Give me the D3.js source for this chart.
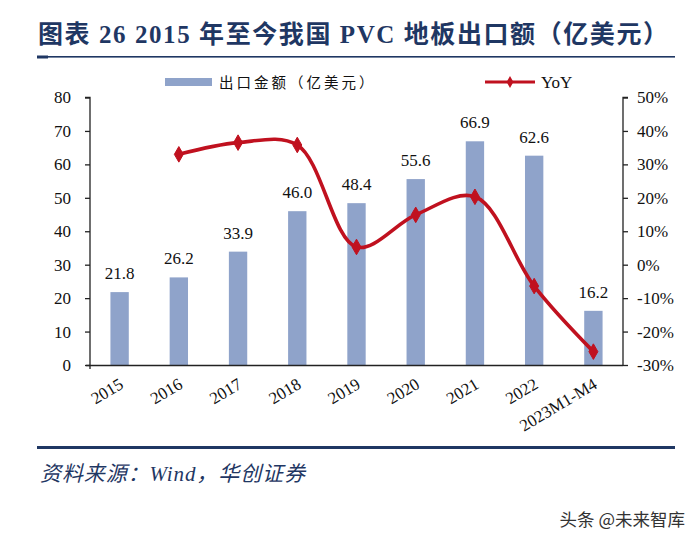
<!DOCTYPE html>
<html><head><meta charset="utf-8">
<script src="https://cdn.jsdelivr.net/npm/d3@7"></script>
<style>
body{margin:0;background:#fff;}
svg{display:block;}
</style></head>
<body>
<svg id="c" width="700" height="544"></svg>
<script>
const categories = ["2015","2016","2017","2018","2019","2020","2021","2022","2023M1-M4"];
const exportValues = [21.8,26.2,33.9,46.0,48.4,55.6,66.9,62.6,16.2];
const yoyValues = [null,33.0,36.5,35.8,5.3,14.9,20.3,-6.4,-26.0];
const leftTicks = [0,10,20,30,40,50,60,70,80];
const rightTicks = [-30,-20,-10,0,10,20,30,40,50];
const titleText = "图表 26  2015 年至今我国 PVC 地板出口额（亿美元）";
const sourceText = "资料来源：Wind，华创证券";
const legendBar = "出口金额（亿美元）";
const legendLine = "YoY";
const watermark = "头条 @未来智库";

const svg = d3.select("#c");
const navy = "#1F3763";
const barColor = "#8FA3CA";
const lineColor = "#C0111F";
const serif = "'Liberation Serif','Times New Roman','Noto Sans CJK SC',serif";

// header
svg.append("text").attr("x",38).attr("y",43).attr("fill",navy)
  .attr("font-family",serif).attr("font-weight","bold").attr("font-size",25)
  .attr("textLength",630).attr("lengthAdjust","spacing")
  .text(titleText);
svg.append("rect").attr("x",37).attr("y",56).attr("width",638).attr("height",1.6).attr("fill",navy);
svg.append("rect").attr("x",37).attr("y",55.5).attr("width",11).attr("height",3).attr("fill",navy);

// footer
svg.append("rect").attr("x",37).attr("y",446).attr("width",638).attr("height",3).attr("fill",navy);
svg.append("text").attr("x",40).attr("y",481).attr("fill",navy)
  .attr("font-family",serif).attr("font-style","italic").attr("font-size",21)
  .attr("textLength",265).attr("lengthAdjust","spacing")
  .text(sourceText);
svg.append("text").attr("x",685).attr("y",526).attr("text-anchor","end").attr("fill","#333")
  .attr("font-family","'Noto Sans CJK SC',sans-serif").attr("font-size",17.5)
  .text(watermark);

// scales
const x0 = 90, x1 = 623, yTop = 97.5, yBot = 365;
const x = d3.scaleBand().domain(categories).range([x0,x1]).paddingInner(0.69).paddingOuter(0.345);
const yL = d3.scaleLinear().domain([0,80]).range([yBot,yTop]);
const yR = d3.scaleLinear().domain([-30,50]).range([yBot,yTop]);

// bars
svg.append("g").selectAll("rect").data(exportValues).join("rect")
  .attr("x",(d,i)=>x(categories[i])).attr("width",x.bandwidth())
  .attr("y",d=>yL(d)).attr("height",d=>yBot-yL(d)).attr("fill",barColor);
svg.append("g").selectAll("text").data(exportValues).join("text")
  .attr("x",(d,i)=>x(categories[i])+x.bandwidth()/2).attr("y",d=>yL(d)-13)
  .attr("text-anchor","middle").attr("font-family",serif).attr("font-size",17).attr("fill","#111")
  .text(d=>d.toFixed(1));

// axes
const axL = svg.append("g").attr("transform",`translate(${x0},0)`)
  .call(d3.axisLeft(yL).tickValues(leftTicks).tickSize(5).tickPadding(14));
const axR = svg.append("g").attr("transform",`translate(${x1},0)`)
  .call(d3.axisRight(yR).tickValues(rightTicks).tickSize(5).tickPadding(9).tickFormat(d=>d+"%"));
const axB = svg.append("g").attr("transform",`translate(0,${yBot})`)
  .call(d3.axisBottom(x).tickSize(0).tickFormat(""));
[axL,axR,axB].forEach(a=>{
  a.selectAll("path,line").attr("stroke","#222").attr("stroke-width",1.3);
  a.selectAll("text").attr("font-family",serif).attr("font-size",17).attr("fill","#111");
});
axB.select("path").attr("d",`M${x0-4},0.5H${x1}`);
axL.select(".domain").attr("d",`M-5,${yTop}H0V${yBot+4}`);
axR.select(".domain").attr("d",`M5,${yTop}H0V${yBot}`);

// x labels rotated
svg.append("g").selectAll("text").data(categories).join("text")
  .attr("transform",d=>`translate(${x(d)+x.bandwidth()/2+3},${yBot+19}) rotate(-31)`)
  .attr("text-anchor","end").attr("dominant-baseline","middle")
  .attr("font-family",serif).attr("font-size",17).attr("fill","#111")
  .text(d=>d);

// line
const pts = yoyValues.map((v,i)=>({c:categories[i],v})).filter(d=>d.v!==null);
const line = d3.line().x(d=>x(d.c)+x.bandwidth()/2).y(d=>yR(d.v)).curve(d3.curveCatmullRom.alpha(0.5));
svg.append("path").datum(pts).attr("d",line).attr("fill","none")
  .attr("stroke",lineColor).attr("stroke-width",3.6).attr("stroke-linejoin","round");
const diamond = d3.symbol().type(d3.symbolDiamond).size(70);
svg.append("g").selectAll("path").data(pts).join("path")
  .attr("transform",d=>`translate(${x(d.c)+x.bandwidth()/2},${yR(d.v)})`)
  .attr("d",diamond).attr("fill",lineColor).attr("stroke",lineColor);

// legend
svg.append("rect").attr("x",165).attr("y",78).attr("width",47).attr("height",8).attr("fill",barColor);
svg.append("text").attr("x",219).attr("y",88).attr("font-family","'Noto Sans CJK SC',sans-serif")
  .attr("font-size",14.5).attr("fill","#111").attr("letter-spacing",3).text(legendBar);
svg.append("line").attr("x1",485).attr("x2",535).attr("y1",82).attr("y2",82)
  .attr("stroke",lineColor).attr("stroke-width",3);
svg.append("path").attr("transform","translate(510,82)").attr("d",d3.symbol().type(d3.symbolDiamond).size(40))
  .attr("fill",lineColor);
svg.append("text").attr("x",541).attr("y",88).attr("font-family",serif)
  .attr("font-size",17).attr("fill","#111").text(legendLine);
</script>
</body></html>
